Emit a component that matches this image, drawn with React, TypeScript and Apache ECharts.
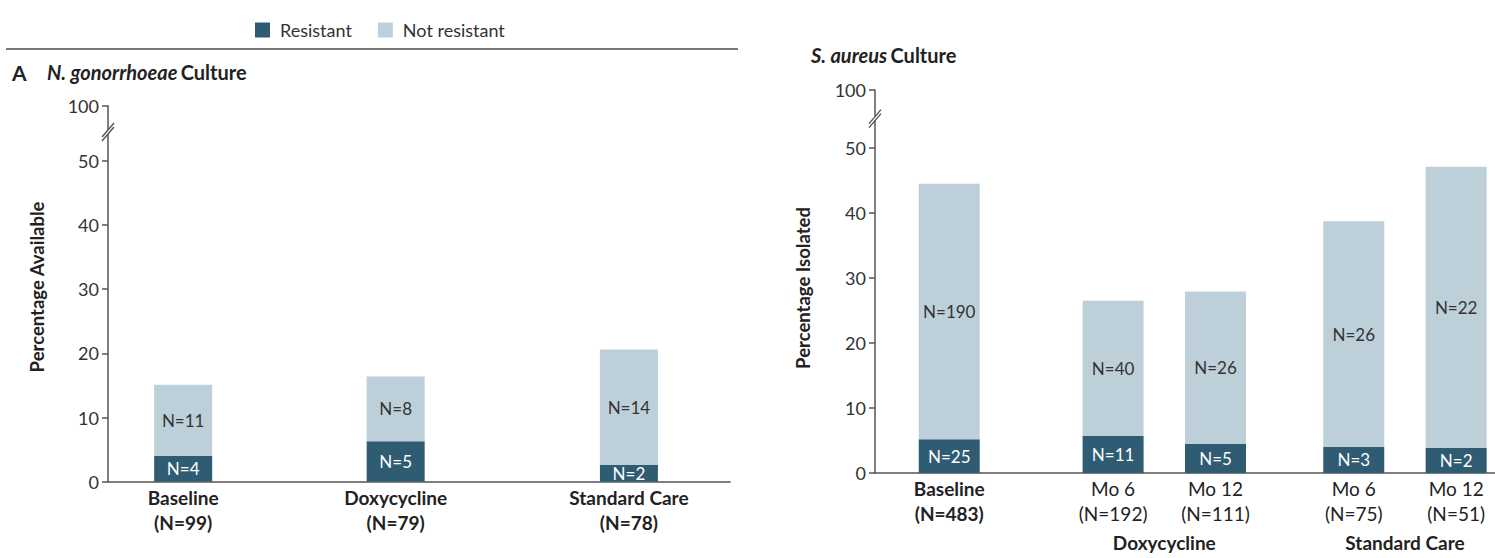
import React, { useEffect, useRef } from 'react';
import * as echarts from 'echarts';

// ---------- data ----------
const SERIES_NAMES = ['Resistant', 'Not resistant'];

const A_CATEGORIES = ['Baseline', 'Doxycycline', 'Standard Care'];
const A_TOTALS = ['(N=99)', '(N=79)', '(N=78)'];
const A_RESISTANT = [4.0, 6.3, 2.6];
const A_NOT_RESISTANT = [11.1, 10.1, 18.0];
const A_RESISTANT_N = ['N=4', 'N=5', 'N=2'];
const A_NOT_RESISTANT_N = ['N=11', 'N=8', 'N=14'];

const B_CATEGORIES = ['Baseline', 'Mo 6', 'Mo 12', 'Mo 6', 'Mo 12'];
const B_TOTALS = ['(N=483)', '(N=192)', '(N=111)', '(N=75)', '(N=51)'];
const B_BOLD = [true, false, false, false, false];
const B_RESISTANT = [5.2, 5.7, 4.5, 4.0, 3.9];
const B_NOT_RESISTANT = [39.3, 20.8, 23.4, 34.7, 43.2];
const B_RESISTANT_N = ['N=25', 'N=11', 'N=5', 'N=3', 'N=2'];
const B_NOT_RESISTANT_N = ['N=190', 'N=40', 'N=26', 'N=26', 'N=22'];
const B_GROUPS = ['Doxycycline', 'Standard Care'];

const Y_TICKS = [0, 10, 20, 30, 40, 50];
const Y_TOP_LABEL = '100';

// ---------- layout ----------
const FONT = 'Lato';
const DARK = '#2f5c73';
const LIGHT = '#bdd0da';
const AXIS = '#555';

const A_SLOT_COUNT = 120;
const A_SLOTS = [14, 55, 100];
const B_SLOT_COUNT = 121;
const B_SLOTS = [14, 46, 66, 93, 113];
const B_GROUP_SLOTS = [56, 103];

const A_MAX = 58.6;
const B_MAX = 58.9;
const BREAK_VALUE = 54.5;

const A_GRID = { left: 108, top: 105.7, width: 622, height: 376 };
const B_GRID = { left: 875, top: 90, width: 620, height: 383 };

function slotNames(n: number) {
  return Array.from({ length: n }, (_, i) => 's' + i);
}
function spread(n: number, slots: number[], vals: (number | null)[]) {
  const out: (number | null)[] = Array.from({ length: n }, () => null);
  slots.forEach((s, i) => (out[s] = vals[i]));
  return out;
}

const richLabel = {
  b: { fontFamily: FONT, fontSize: 19, fontWeight: 'bold', color: '#222', lineHeight: 25 },
  r: { fontFamily: FONT, fontSize: 19, fontWeight: 'normal', color: '#222', lineHeight: 25 },
};

function yAxis(gridIndex: number, max: number) {
  const vals = [...Y_TICKS, max];
  return {
    type: 'value',
    gridIndex,
    min: 0,
    max,
    splitLine: { show: false },
    axisLine: { show: true, lineStyle: { color: AXIS, width: 1.5 } },
    axisTick: { show: true, length: 6, lineStyle: { color: AXIS, width: 1.5 }, customValues: vals },
    axisLabel: {
      customValues: vals,
      fontFamily: FONT,
      fontSize: 18,
      color: '#333',
      margin: 9,
      formatter: (v: number) => (v > 55 ? Y_TOP_LABEL : String(v)),
    },
  };
}

export default function App() {
  const ref = useRef<HTMLDivElement>(null);

  useEffect(() => {
    if (!ref.current) return;
    const chart = echarts.init(ref.current, null, { renderer: 'svg' });

    const aLabelIdx: Record<number, number> = {};
    A_SLOTS.forEach((s, i) => (aLabelIdx[s] = i));
    const bLabelIdx: Record<number, number> = {};
    B_SLOTS.forEach((s, i) => (bLabelIdx[s] = i));
    const bGroupIdx: Record<number, number> = {};
    B_GROUP_SLOTS.forEach((s, i) => (bGroupIdx[s] = i));

    const barLabel = (color: string, texts: string[], idx: Record<number, number>) => ({
      show: true,
      position: 'inside',
      fontFamily: FONT,
      fontSize: 17,
      color,
      formatter: (p: any) => (idx[p.dataIndex] !== undefined ? texts[idx[p.dataIndex]] : ''),
    });

    const option: any = {
      animation: false,
      legend: {
        data: SERIES_NAMES,
        left: 250,
        top: 16,
        icon: 'rect',
        itemWidth: 15,
        itemHeight: 15,
        itemGap: 26,
        textStyle: { fontFamily: FONT, fontSize: 18, color: '#333', padding: [0, 0, 0, 5] },
      },
      grid: [
        { ...A_GRID, containLabel: false },
        { ...B_GRID, containLabel: false },
      ],
      xAxis: [
        {
          type: 'category',
          gridIndex: 0,
          data: slotNames(A_SLOT_COUNT),
          axisLine: { lineStyle: { color: AXIS, width: 1.5 } },
          axisTick: { show: false },
          axisLabel: {
            interval: 0,
            margin: 3,
            formatter: (_: string, i: number) =>
              aLabelIdx[i] !== undefined
                ? `{b|${A_CATEGORIES[aLabelIdx[i]]}}\n{b|${A_TOTALS[aLabelIdx[i]]}}`
                : '',
            rich: richLabel,
          },
        },
        {
          type: 'category',
          gridIndex: 1,
          data: slotNames(B_SLOT_COUNT),
          axisLine: { lineStyle: { color: AXIS, width: 1.5 } },
          axisTick: { show: false },
          axisLabel: {
            interval: 0,
            margin: 3,
            formatter: (_: string, i: number) => {
              const k = bLabelIdx[i];
              if (k === undefined) return '';
              const st = B_BOLD[k] ? 'b' : 'r';
              return `{${st}|${B_CATEGORIES[k]}}\n{${st}|${B_TOTALS[k]}}`;
            },
            rich: richLabel,
          },
        },
        {
          type: 'category',
          gridIndex: 1,
          data: slotNames(B_SLOT_COUNT),
          position: 'bottom',
          offset: 55,
          axisLine: { show: false },
          axisTick: { show: false },
          axisLabel: {
            interval: 0,
            margin: 3,
            formatter: (_: string, i: number) =>
              bGroupIdx[i] !== undefined ? `{b|${B_GROUPS[bGroupIdx[i]]}}` : '',
            rich: {
              b: { fontFamily: FONT, fontSize: 19, fontWeight: 'bold', color: '#222', lineHeight: 22 },
            },
          },
        },
      ],
      yAxis: [yAxis(0, A_MAX), yAxis(1, B_MAX)],
      series: [
        {
          name: SERIES_NAMES[0],
          type: 'bar',
          stack: 'a',
          xAxisIndex: 0,
          yAxisIndex: 0,
          barWidth: 58,
          itemStyle: { color: DARK },
          data: spread(A_SLOT_COUNT, A_SLOTS, A_RESISTANT),
          label: barLabel('#fff', A_RESISTANT_N, aLabelIdx),
        },
        {
          name: SERIES_NAMES[1],
          type: 'bar',
          stack: 'a',
          xAxisIndex: 0,
          yAxisIndex: 0,
          barWidth: 58,
          itemStyle: { color: LIGHT },
          data: spread(A_SLOT_COUNT, A_SLOTS, A_NOT_RESISTANT),
          label: barLabel('#333', A_NOT_RESISTANT_N, aLabelIdx),
        },
        {
          name: SERIES_NAMES[0],
          type: 'bar',
          stack: 'b',
          xAxisIndex: 1,
          yAxisIndex: 1,
          barWidth: 61,
          itemStyle: { color: DARK },
          data: spread(B_SLOT_COUNT, B_SLOTS, B_RESISTANT),
          label: barLabel('#fff', B_RESISTANT_N, bLabelIdx),
        },
        {
          name: SERIES_NAMES[1],
          type: 'bar',
          stack: 'b',
          xAxisIndex: 1,
          yAxisIndex: 1,
          barWidth: 61,
          itemStyle: { color: LIGHT },
          data: spread(B_SLOT_COUNT, B_SLOTS, B_NOT_RESISTANT),
          label: barLabel('#333', B_NOT_RESISTANT_N, bLabelIdx),
        },
      ],
    };

    chart.setOption(option);

    const ya = chart.convertToPixel({ yAxisIndex: 0 }, BREAK_VALUE) as number;
    const yb = chart.convertToPixel({ yAxisIndex: 1 }, BREAK_VALUE) as number;

    const breakMark = (x: number, y: number) => [
      { type: 'rect', shape: { x: x - 3, y: y - 2, width: 6, height: 4 }, style: { fill: '#fff' }, z: 100 },
      { type: 'line', shape: { x1: x - 6, y1: y + 5, x2: x + 6, y2: y - 9 }, style: { stroke: AXIS, lineWidth: 1.4 }, z: 101 },
      { type: 'line', shape: { x1: x - 6, y1: y + 9, x2: x + 6, y2: y - 5 }, style: { stroke: AXIS, lineWidth: 1.4 }, z: 101 },
    ];

    const titleRich = {
      i: { fontFamily: FONT, fontSize: 20, fontWeight: 'bold', fontStyle: 'italic', fill: '#222' },
      n: { fontFamily: FONT, fontSize: 20, fontWeight: 'bold', fill: '#222' },
    };

    chart.setOption({
      graphic: [
        { type: 'line', shape: { x1: 6, y1: 49, x2: 738, y2: 49 }, style: { stroke: '#777', lineWidth: 2 } },
        {
          type: 'text', x: 12, y: 72,
          style: { text: 'A', fontFamily: FONT, fontSize: 21, fontWeight: 'bold', fill: '#222', textVerticalAlign: 'middle' },
        },
        {
          type: 'text', x: 47, y: 72,
          style: { text: '{i|N. gonorrhoeae} {n|Culture}', rich: titleRich, textVerticalAlign: 'middle' },
        },
        {
          type: 'text', x: 811, y: 55,
          style: { text: '{i|S. aureus} {n|Culture}', rich: titleRich, textVerticalAlign: 'middle' },
        },
        {
          type: 'text', x: 37, y: 287, rotation: Math.PI / 2,
          style: { text: 'Percentage Available', fontFamily: FONT, fontSize: 18.5, fontWeight: 'bold', fill: '#222', textAlign: 'center', textVerticalAlign: 'middle' },
        },
        {
          type: 'text', x: 803, y: 288, rotation: Math.PI / 2,
          style: { text: 'Percentage Isolated', fontFamily: FONT, fontSize: 18.5, fontWeight: 'bold', fill: '#222', textAlign: 'center', textVerticalAlign: 'middle' },
        },
        ...breakMark(A_GRID.left, ya),
        ...breakMark(B_GRID.left, yb),
      ],
    });

    return () => chart.dispose();
  }, []);

  return (
    <div
      ref={ref}
      style={{ position: 'absolute', left: 0, top: 0, width: 1495, height: 558, background: '#fff' }}
    />
  );
}
